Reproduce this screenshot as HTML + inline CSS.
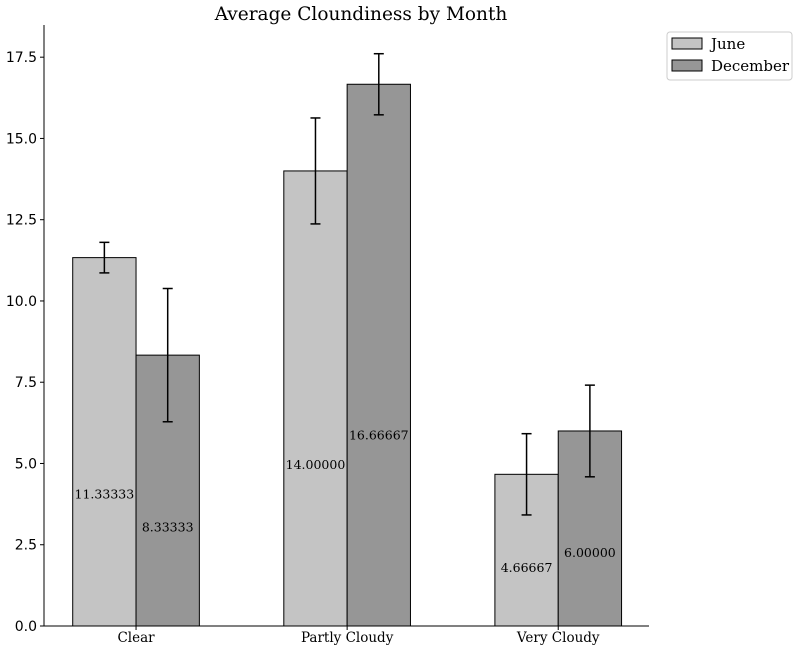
<!DOCTYPE html>
<html><head><meta charset="utf-8"><style>
html,body{margin:0;padding:0;background:#fff;}
svg{display:block;}
.tick{font-family:"DejaVu Sans","Liberation Sans",sans-serif;font-size:14px;fill:#000;}
.serif{font-family:"DejaVu Serif","Liberation Serif",serif;fill:#000;}
</style></head><body>
<svg id="chart" width="800" height="651" xmlns="http://www.w3.org/2000/svg"></svg>
<script>
const categories = ["Clear", "Partly Cloudy", "Very Cloudy"];
const seriesNames = ["June", "December"];
const juneValues = [11.33333, 14.0, 4.66667];
const decemberValues = [8.33333, 16.66667, 6.0];
const juneErrors = [0.47, 1.63, 1.25];
const decemberErrors = [2.05, 0.94, 1.41];
const yTicks = [0, 2.5, 5, 7.5, 10, 12.5, 15, 17.5];
const valueLabels = [["11.33333","14.00000","4.66667"],["8.33333","16.66667","6.00000"]];

const NS = "http://www.w3.org/2000/svg";
const svg = document.getElementById("chart");
const L = 44, R = 649, T = 25, B = 626;
const xMin = -0.436, xMax = 2.430, yMin = 0, yMax = 18.49;
const xs = v => L + (v - xMin) / (xMax - xMin) * (R - L);
const ys = v => B - (v - yMin) / (yMax - yMin) * (B - T);
const barW = 0.3;
const colors = ["#c4c4c4", "#969696"];

function mk(tag, attrs, parent) {
  const e = document.createElementNS(NS, tag);
  for (const k in attrs) e.setAttribute(k, attrs[k]);
  (parent || svg).appendChild(e);
  return e;
}

const title = mk("text", {x: 361, y: 20, "text-anchor": "middle", class: "serif", "font-size": "18.5"});
title.textContent = "Average Cloundiness by Month";



const series = [juneValues, decemberValues];
const errs = [juneErrors, decemberErrors];
series.forEach((vals, s) => {
  vals.forEach((v, i) => {
    const x0 = xs(i - barW + s * barW), x1 = xs(i + s * barW);
    const r = mk("rect", {x: x0, y: ys(v), width: x1 - x0, height: ys(0) - ys(v), fill: colors[s], stroke: "#000", "stroke-width": 1});
    
    
  });
});
series.forEach((vals, s) => {
  vals.forEach((v, i) => {
    const cx = xs(i - barW / 2 + s * barW);
    const g = mk("g", {stroke: "#000", "stroke-width": 1.5});
    
    
    const hi = ys(v + errs[s][i]), lo = ys(v - errs[s][i]);
    mk("line", {x1: cx, x2: cx, y1: hi, y2: lo}, g);
    mk("line", {x1: cx - 5, x2: cx + 5, y1: hi, y2: hi}, g);
    mk("line", {x1: cx - 5, x2: cx + 5, y1: lo, y2: lo}, g);
    const t = mk("text", {x: cx, y: ys(0.34 * v + 0.2) + 4, "text-anchor": "middle", class: "serif", "font-size": "12.5"});
    t.textContent = valueLabels[s][i];
    
    
  });
});

const ax = mk("line", {x1: L, x2: L, y1: T, y2: B, stroke: "#000", "stroke-width": 1});


const bx = mk("line", {x1: L, x2: R, y1: B, y2: B, stroke: "#000", "stroke-width": 1});



yTicks.forEach(v => {
  const y = ys(v);
  mk("line", {x1: L - 4, x2: L, y1: y, y2: y, stroke: "#000"});
  const t = mk("text", {x: L - 7, y: y + 5, "text-anchor": "end", class: "tick"});
  t.textContent = v.toFixed(1);
  
  
});
categories.forEach((c, i) => {
  const x = xs(i);
  mk("line", {x1: x, x2: x, y1: B, y2: B + 4, stroke: "#000"});
  const t = mk("text", {x: x, y: B + 16, "text-anchor": "middle", class: "serif", "font-size": "13.5"});
  t.textContent = c;
  
  
});

const lg = mk("g", {});


mk("rect", {x: 667, y: 32, width: 125, height: 48, rx: 3, fill: "#fff", stroke: "#ccc"}, lg);
seriesNames.forEach((n, s) => {
  const y = 38 + s * 22;
  const p = mk("rect", {x: 672, y: y, width: 30, height: 11, fill: colors[s], stroke: "#000"}, lg);
  
  
  const t = mk("text", {x: 711, y: y + 11, class: "serif", "font-size": "15"}, lg);
  t.textContent = n;
  
  
});
</script>
</body></html>
